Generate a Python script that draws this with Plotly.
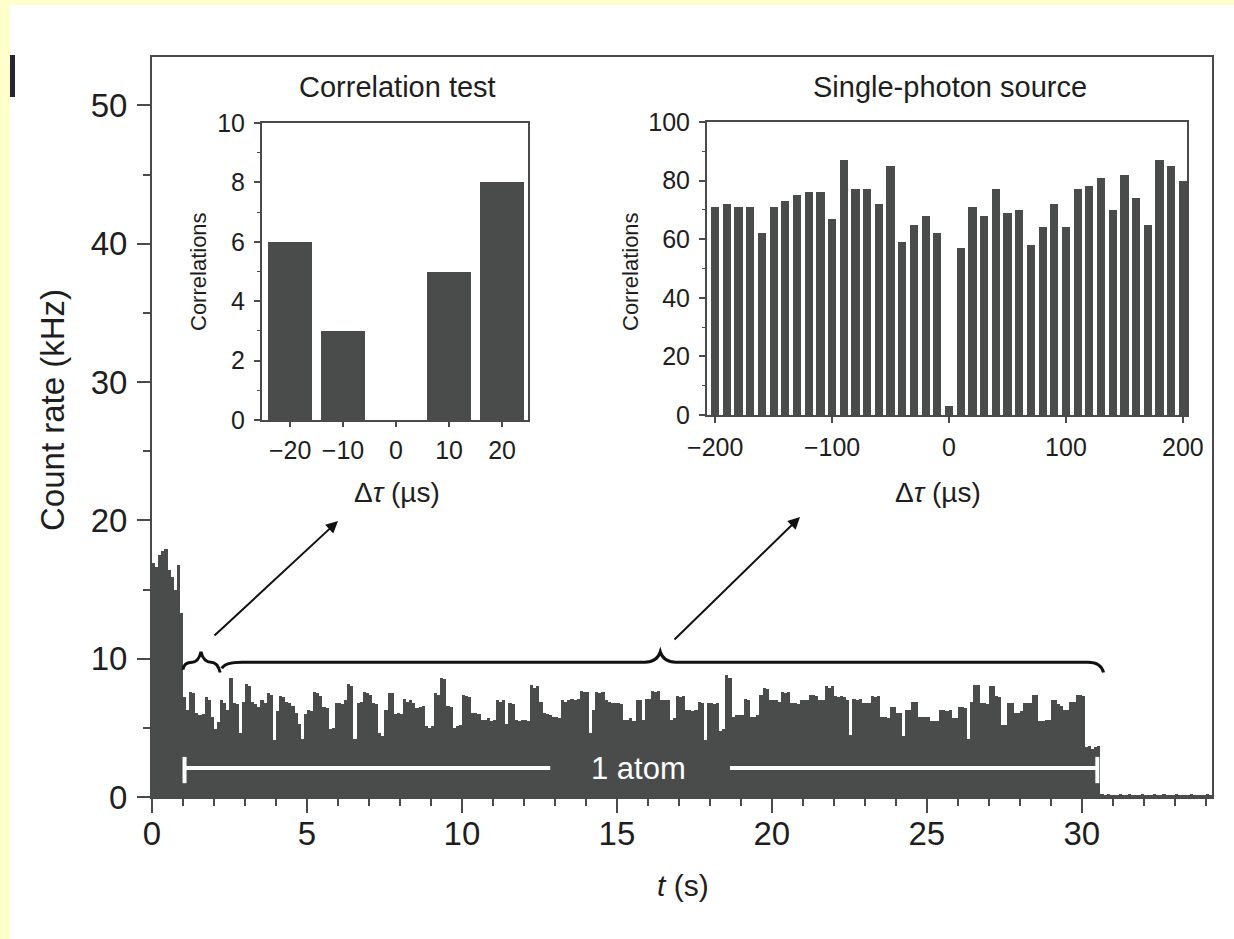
import plotly.graph_objects as go

# ---------------- data ----------------
bin_width_s = 0.1
# count rate (kHz) per 0.1 s bin, starting at t = 0 s
count_rate_loading = [16.9, 16.6, 17.5, 17.8, 17.9, 16.4, 15.9, 15.0, 16.8, 13.3]
count_rate_one_atom = [
    7.2, 6.3, 7.6, 7.5, 6.1, 5.9, 6.0, 7.2, 7.0, 5.8,
    4.9, 5.4, 7.0, 6.8, 6.3, 8.6, 6.8, 6.7, 4.6, 6.9,
    8.2, 8.0, 6.9, 6.7, 6.5, 7.0, 6.8, 7.5, 7.4, 4.1,
    6.2, 7.3, 7.2, 6.9, 6.8, 6.6, 6.1, 5.3, 4.2, 6.0,
    6.3, 6.2, 7.6, 7.5, 7.3, 6.5, 6.4, 4.9, 5.0, 6.8,
    6.8, 6.7, 7.0, 8.2, 8.0, 4.2, 6.8, 6.9, 7.6, 7.5,
    7.4, 6.8, 6.7, 4.6, 4.4, 6.3, 7.5, 7.5, 6.0, 6.1,
    6.0, 7.1, 6.9, 7.0, 6.8, 6.4, 6.5, 6.6, 5.1, 5.0,
    5.1, 7.5, 7.4, 8.6, 8.5, 6.6, 6.5, 5.0, 5.1, 5.2,
    7.4, 7.3, 7.2, 6.1, 6.1, 6.0, 5.6, 5.6, 5.7, 5.5,
    5.6, 7.0, 6.9, 7.0, 5.3, 6.8, 6.7, 5.6, 5.5, 5.6,
    5.6, 5.5, 8.1, 7.9, 8.0, 6.9, 6.1, 6.0, 5.9, 5.8,
    5.8, 5.7, 7.0, 6.9, 7.0, 7.1, 7.0, 7.1, 7.7, 7.6,
    7.6, 4.6, 6.3, 7.6, 7.5, 7.6, 7.0, 6.9, 6.8, 6.8,
    6.8, 6.7, 5.6, 5.6, 5.7, 5.5, 7.0, 7.0, 5.6, 7.1,
    7.1, 7.7, 7.6, 7.7, 7.0, 7.0, 7.0, 5.6, 5.7, 7.3,
    7.2, 7.3, 6.3, 6.3, 6.2, 6.3, 6.9, 6.8, 4.1, 6.8,
    6.8, 6.7, 6.8, 4.8, 4.9, 8.8, 8.6, 5.8, 5.9, 5.9,
    5.9, 7.1, 7.0, 5.8, 5.8, 5.9, 7.4, 7.9, 7.8, 7.0,
    7.0, 7.0, 6.9, 7.6, 7.5, 7.6, 6.8, 6.8, 6.7, 7.0,
    7.0, 7.0, 7.4, 7.4, 7.3, 7.0, 7.0, 8.0, 7.9, 8.0,
    7.3, 7.2, 7.3, 7.2, 7.0, 4.5, 7.1, 7.0, 7.1, 6.8,
    6.8, 6.8, 7.3, 7.2, 7.3, 5.8, 5.8, 5.7, 6.5, 6.5,
    6.1, 6.1, 4.4, 6.3, 6.3, 6.9, 6.9, 5.8, 5.8, 5.8,
    5.8, 5.5, 5.5, 5.5, 6.3, 6.3, 6.2, 6.3, 5.7, 5.7,
    6.5, 6.5, 6.4, 4.2, 6.9, 8.1, 8.1, 6.8, 6.8, 6.7,
    8.0, 8.0, 7.3, 7.2, 5.2, 5.2, 6.8, 6.8, 6.1, 6.1,
    6.2, 6.8, 6.8, 6.8, 7.4, 7.4, 5.5, 5.5, 5.6, 5.6,
    7.0, 7.0, 6.7, 6.6, 6.3, 6.3, 6.9, 6.9, 7.4, 7.4,
    7.3, 3.6, 3.7, 3.5, 3.6, 3.7,
]
count_rate_empty = [
    0.2, 0.1, 0.2, 0.1, 0.15, 0.1, 0.2, 0.1, 0.15, 0.2,
    0.1, 0.15, 0.1, 0.2, 0.1, 0.1, 0.15, 0.2, 0.1, 0.1,
    0.2, 0.1, 0.15, 0.1, 0.2, 0.1, 0.1, 0.15, 0.1, 0.2,
    0.1, 0.15, 0.1, 0.1, 0.2, 0.1,
]
count_rate_khz = count_rate_loading + count_rate_one_atom + count_rate_empty
time_s = [round((i + 0.5) * bin_width_s, 3) for i in range(len(count_rate_khz))]

# inset: correlation test
dtau_test_us = [-20, -10, 0, 10, 20]
corr_test = [6, 3, 0, 5, 8]

# inset: single-photon source
dtau_sps_us = [-200, -190, -180, -170, -160, -150, -140, -130, -120, -110,
               -100, -90, -80, -70, -60, -50, -40, -30, -20, -10,
               0, 10, 20, 30, 40, 50, 60, 70, 80, 90,
               100, 110, 120, 130, 140, 150, 160, 170, 180, 190, 200]
corr_sps = [71, 72, 71, 71, 62, 71, 73, 75, 76, 76,
            67, 87, 77, 77, 72, 85, 59, 65, 68, 62,
            3, 57, 71, 68, 77, 69, 70, 58, 64, 72,
            64, 77, 78, 81, 70, 82, 74, 65, 87, 85, 80]

main_xticks = [0, 5, 10, 15, 20, 25, 30]
main_yticks = [0, 10, 20, 30, 40, 50]

# ---------------- figure ----------------
W, H = 1234, 939
BAR = "#4a4b4b"
AX = "#4a4a4a"
TXT = "#1e1e1e"
FONT = "Liberation Sans, Arial, sans-serif"


def px(x):
    return x / W


def py(y):
    return 1 - y / H


fig = go.Figure()
fig.add_trace(go.Bar(x=time_s, y=count_rate_khz, width=bin_width_s,
                     marker=dict(color=BAR, line=dict(width=0)),
                     xaxis="x", yaxis="y", showlegend=False))
fig.add_trace(go.Bar(x=dtau_test_us, y=corr_test, width=8.3,
                     marker=dict(color=BAR, line=dict(width=0)),
                     xaxis="x2", yaxis="y2", showlegend=False))
fig.add_trace(go.Bar(x=dtau_sps_us, y=corr_sps, width=7.0,
                     marker=dict(color=BAR, line=dict(width=0)),
                     xaxis="x3", yaxis="y3", showlegend=False))

common = dict(showline=True, linecolor=AX, linewidth=2, mirror=True,
              showgrid=False, zeroline=False, ticks="outside", automargin=False,
              tickcolor=AX, tickwidth=2, color=TXT)

fig.update_layout(
    template="none",
    width=W, height=H, autosize=False,
    margin=dict(l=0, r=0, t=0, b=0, pad=0),
    paper_bgcolor="#FFFFCC",
    plot_bgcolor="rgba(0,0,0,0)",
    font=dict(family=FONT, color=TXT),
    bargap=0,
    xaxis=dict(domain=[px(152), px(1212)], range=[0, 34.2], anchor="y",
               tickvals=main_xticks, ticklen=14,
               minor=dict(dtick=1, ticklen=7, ticks="outside", tickcolor=AX, tickwidth=1.5),
               tickfont=dict(size=33), ticklabelstandoff=-8, **common),
    yaxis=dict(domain=[py(797), py(57)], range=[0, 53.5], anchor="x",
               tickvals=main_yticks, ticklen=13,
               minor=dict(dtick=5, ticklen=7, ticks="outside", tickcolor=AX, tickwidth=1.5),
               tickfont=dict(size=33), ticklabelstandoff=3, **common),
    xaxis2=dict(domain=[px(262), px(528)], range=[-25.3, 24.9], anchor="y2",
                tickvals=dtau_test_us, ticklen=5,
                tickfont=dict(size=25), ticklabelstandoff=2, **common),
    yaxis2=dict(domain=[py(420), py(123)], range=[0, 10], anchor="x2",
                dtick=2, ticklen=6,
                minor=dict(dtick=1, ticklen=3, ticks="outside", tickcolor=AX, tickwidth=1),
                tickfont=dict(size=25), ticklabelstandoff=4, **common),
    xaxis3=dict(domain=[px(707), px(1187)], range=[-207, 203.5], anchor="y3",
                dtick=100, ticklen=6,
                tickfont=dict(size=25), ticklabelstandoff=3, **common),
    yaxis3=dict(domain=[py(415), py(122)], range=[0, 100], anchor="x3",
                dtick=20, ticklen=6,
                minor=dict(dtick=10, ticklen=3, ticks="outside", tickcolor=AX, tickwidth=1),
                tickfont=dict(size=25), ticklabelstandoff=4, **common),
)

shapes = [
    # white page region inside yellow border
    dict(type="rect", xref="paper", yref="paper", x0=px(10), x1=1.0, y0=0, y1=py(5),
         fillcolor="white", line=dict(width=0), layer="below"),
    # panel mark at top-left
    dict(type="rect", xref="paper", yref="paper", x0=px(10), x1=px(15), y0=py(97), y1=py(55),
         fillcolor="#26263a", line=dict(width=0), layer="above"),
    # small brace
    dict(type="path", xref="x", yref="y", layer="above",
         path="M 1.0,9.2 Q 1.02,9.75 1.3,9.75 Q 1.5,9.75 1.58,10.5 Q 1.66,9.75 1.9,9.75 Q 2.12,9.75 2.2,9.0",
         line=dict(color="#111", width=3)),
    # large brace
    dict(type="path", xref="x", yref="y", layer="above",
         path="M 2.25,9.3 Q 2.35,9.75 2.9,9.75 L 15.9,9.75 Q 16.3,9.75 16.4,10.5 "
              "Q 16.5,9.75 16.9,9.75 L 30.2,9.75 Q 30.62,9.75 30.7,9.0",
         line=dict(color="#111", width=3)),
    # "1 atom" white bar with end caps
    dict(type="line", xref="x", yref="y", x0=1.05, x1=12.85, y0=2.1, y1=2.1,
         line=dict(color="white", width=4), layer="above"),
    dict(type="line", xref="x", yref="y", x0=18.65, x1=30.5, y0=2.1, y1=2.1,
         line=dict(color="white", width=4), layer="above"),
    dict(type="line", xref="x", yref="y", x0=1.05, x1=1.05, y0=1.0, y1=2.9,
         line=dict(color="white", width=4), layer="above"),
    dict(type="line", xref="x", yref="y", x0=30.5, x1=30.5, y0=1.0, y1=2.9,
         line=dict(color="white", width=4), layer="above"),
]
fig.update_layout(shapes=shapes)

ann = [
    dict(text="Count rate (kHz)", x=px(52), y=py(410), textangle=-90, font=dict(size=33)),
    dict(text="<i>t</i> (s)", x=px(683), y=py(885), font=dict(size=30)),
    dict(text="Correlation test", x=px(397), y=py(87), font=dict(size=29)),
    dict(text="Single-photon source", x=px(950), y=py(87), font=dict(size=29)),
    dict(text="Correlations", x=px(198), y=py(272), textangle=-90, font=dict(size=22)),
    dict(text="Correlations", x=px(630), y=py(272), textangle=-90, font=dict(size=22)),
    dict(text="Δ<i>τ</i> (µs)", x=px(397), y=py(492), font=dict(size=28)),
    dict(text="Δ<i>τ</i> (µs)", x=px(938), y=py(492), font=dict(size=28)),
    dict(text="1 atom", x=px(638), y=py(768), font=dict(size=31, color="white")),
]
annotations = []
for a in ann:
    a.update(xref="paper", yref="paper", showarrow=False, xanchor="center", yanchor="middle")
    annotations.append(a)
# arrows
annotations.append(dict(xref="paper", yref="paper", x=px(338), y=py(521), ax=-125, ay=116,
                        axref="pixel", ayref="pixel", text="", showarrow=True,
                        arrowhead=2, arrowsize=1.2, arrowwidth=2, arrowcolor="#111"))
annotations.append(dict(xref="paper", yref="paper", x=px(800), y=py(517), ax=-127, ay=124,
                        axref="pixel", ayref="pixel", text="", showarrow=True,
                        arrowhead=2, arrowsize=1.2, arrowwidth=2, arrowcolor="#111"))
fig.update_layout(annotations=annotations)

fig.write_html(
    "out.html",
    config={"displayModeBar": False},
    post_script="document.body.style.margin='0';document.body.style.padding='0';"
                "document.body.style.background='#FFFFCC';"
                "document.body.style.overflow='hidden';",
)
